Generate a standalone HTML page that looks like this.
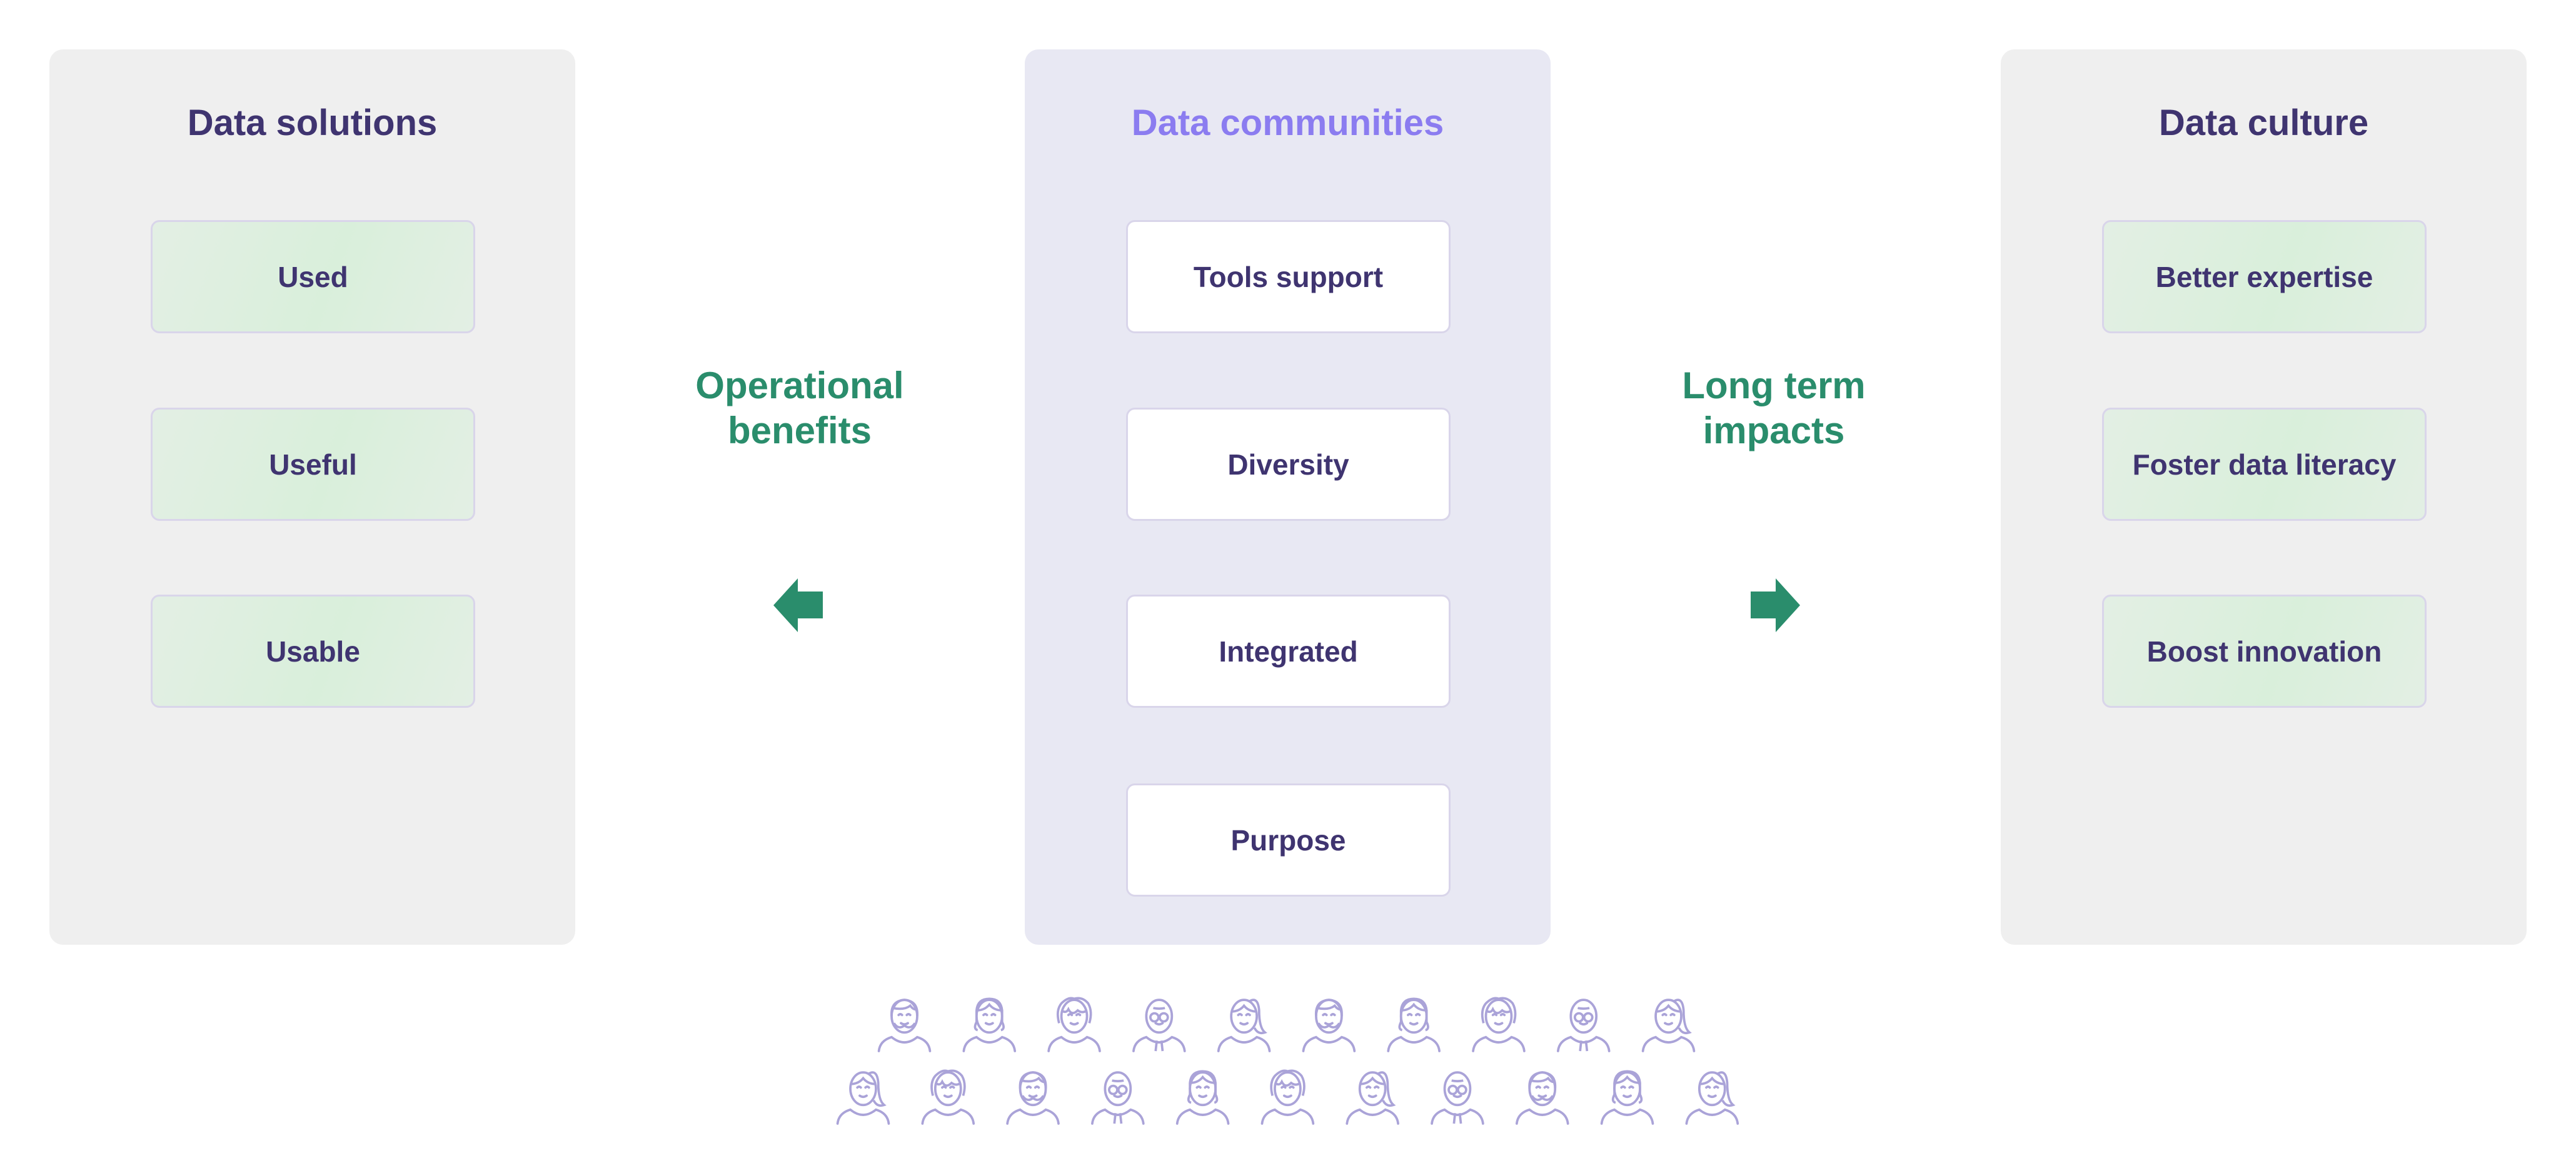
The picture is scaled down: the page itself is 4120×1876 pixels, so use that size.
<!DOCTYPE html>
<html><head><meta charset="utf-8"><style>
body{margin:0;width:4120px;height:1876px;background:#fff;position:relative;overflow:hidden;font-family:"Liberation Sans",sans-serif;font-weight:bold}
.p{position:absolute;top:79px;height:1432px;width:841px;border-radius:22px;background:#efefef}
.t{position:absolute;top:84px;width:100%;text-align:center;font-size:58px;color:#3f3470}
.b{position:absolute;left:162px;width:513px;height:175px;border:3px solid #d9d5ea;border-radius:14px;display:flex;align-items:center;justify-content:center;font-size:46px;color:#3f3470;background:linear-gradient(110deg,#e3efe4,#d9efdb 55%,#e3efe4)}
.w{background:#fff}
.g{position:absolute;width:500px;text-align:center;color:#2a8d6c;font-size:60px;line-height:72px;top:581px}
</style></head><body>
<div class="p" style="left:79px"><div class="t">Data solutions</div>
<div class="b" style="top:273px">Used</div><div class="b" style="top:573px">Useful</div><div class="b" style="top:872px">Usable</div></div>
<div class="p" style="left:1639px;background:#e8e8f3"><div class="t" style="color:#8b7cf0">Data communities</div>
<div class="b w" style="top:273px">Tools support</div><div class="b w" style="top:573px">Diversity</div><div class="b w" style="top:872px">Integrated</div><div class="b w" style="top:1174px">Purpose</div></div>
<div class="p" style="left:3200px"><div class="t">Data culture</div>
<div class="b" style="top:273px">Better expertise</div><div class="b" style="top:573px">Foster data literacy</div><div class="b" style="top:872px">Boost innovation</div></div>
<div class="g" style="left:1029px">Operational<br>benefits</div>
<div class="g" style="left:2587px">Long term<br>impacts</div>
<svg width="4120" height="1876" style="position:absolute;left:0;top:0">
<polygon points="1237,968 1276,925 1276,946 1316,946 1316,989 1276,989 1276,1011" fill="#2a8d6c"/>
<polygon points="2879,968 2840,925 2840,946 2800,946 2800,989 2840,989 2840,1011" fill="#2a8d6c"/>
<defs>
<g id="base" fill="none" stroke="#aaa3d8" stroke-width="4" stroke-linecap="round">
<ellipse cx="50" cy="40" rx="22" ry="28"/>
<path d="M6 100 Q8 82 28 76 Q50 94 72 76 Q92 82 94 100"/>
<path d="M40 38 q3 -3 6 0 M54 38 q3 -3 6 0 M44 52 q6 4 12 0"/>
</g>
<g id="p1"><use href="#base"/><path d="M28 40 Q26 14 50 12 Q74 14 72 40 M30 26 Q50 30 60 22 Q66 30 72 28 M32 52 Q40 64 50 56 Q60 64 68 52" fill="none" stroke="#aaa3d8" stroke-width="4"/></g>
<g id="p2"><use href="#base"/><path d="M28 30 Q30 10 50 10 Q70 10 72 30 L72 50 Q78 62 70 64 M28 30 L28 50 Q22 62 30 64 M28 30 Q42 30 50 20 Q58 30 72 30" fill="none" stroke="#aaa3d8" stroke-width="4"/></g>
<g id="p3"><use href="#base"/><path d="M24 52 Q18 30 28 18 Q40 6 50 10 Q64 6 74 18 Q82 32 76 52 M28 30 Q36 36 40 28 Q46 40 56 30 Q64 36 72 30" fill="none" stroke="#aaa3d8" stroke-width="4"/></g>
<g id="p4"><use href="#base"/><circle cx="42" cy="42" r="7" fill="#fff" stroke="#aaa3d8" stroke-width="4"/><circle cx="58" cy="42" r="7" fill="#fff" stroke="#aaa3d8" stroke-width="4"/><path d="M40 26 Q50 28 60 26 M46 82 L44 100 M54 82 L56 100" fill="none" stroke="#aaa3d8" stroke-width="4"/></g>
<g id="p5"><use href="#base"/><path d="M28 32 Q42 32 50 22 Q58 32 72 32 M60 14 Q74 6 76 30 Q76 60 86 68 Q74 72 68 60" fill="none" stroke="#aaa3d8" stroke-width="4"/></g>
</defs>
<g transform="translate(1400,1588) scale(0.93)">
<use href="#p1"/><use href="#p2" x="146"/><use href="#p3" x="292"/><use href="#p4" x="438"/><use href="#p5" x="584"/><use href="#p1" x="730"/><use href="#p2" x="876"/><use href="#p3" x="1022"/><use href="#p4" x="1168"/><use href="#p5" x="1314"/>
</g>
<g transform="translate(1334,1704) scale(0.93)">
<use href="#p5"/><use href="#p3" x="146"/><use href="#p1" x="292"/><use href="#p4" x="438"/><use href="#p2" x="584"/><use href="#p3" x="730"/><use href="#p5" x="876"/><use href="#p4" x="1022"/><use href="#p1" x="1168"/><use href="#p2" x="1314"/><use href="#p5" x="1460"/>
</g>
</svg>
</body></html>
